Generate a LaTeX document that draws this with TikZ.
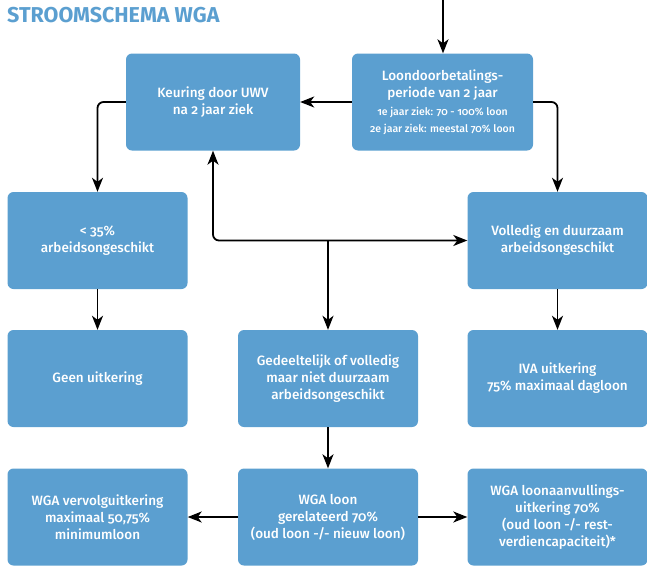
\documentclass[tikz,border=0pt]{standalone}
\usepackage{fontspec}
\setmainfont{Fira Sans}[UprightFont=* Medium,BoldFont=* Bold,Numbers=OldStyle]
\usetikzlibrary{arrows.meta}
\definecolor{wgablue}{HTML}{5B9FD0}
\begin{document}
\begin{tikzpicture}[x=1pt,y=-1pt,
  blok/.style={fill=wgablue,rounded corners=6pt,text=white,align=center,
    minimum width=180pt,minimum height=97pt,inner sep=2pt,
    font=\fontsize{13.5}{17}\selectfont},
  pijl/.style={line width=1.8pt,-{Stealth[length=14pt,width=11pt,inset=4pt]}},
  tweepijl/.style={line width=1.8pt,{Stealth[length=14pt,width=11pt,inset=4pt]}-{Stealth[length=14pt,width=11pt,inset=4pt]}}]
\useasboundingbox (0,0) rectangle (647,565);
\node[anchor=north west,text=wgablue,inner sep=0pt,font=\fontsize{21.5}{22}\selectfont\bfseries] (titel) at (7,7) {STROOMSCHEMA WGA};
% rij 1
\node[blok,minimum width=174pt] (keuring) at (213,102) {Keuring door UWV\\na 2 jaar ziek};
\node[blok,minimum width=181pt] (loon) at (442.5,102) {Loondoorbetalings-\\periode van 2 jaar\\[1pt]{\fontsize{10.5}{15.5}\selectfont 1e jaar ziek: 70 - 100\% loon}\\{\fontsize{10.5}{15.5}\selectfont 2e jaar ziek: meestal 70\% loon}};
% rij 2
\node[blok] (lt35) at (97.5,240.5) {< 35\%\\arbeidsongeschikt};
\node[blok] (volledig) at (557.5,240.5) {Volledig en duurzaam\\arbeidsongeschikt};
% rij 3
\node[blok] (geen) at (97.5,378.5) {Geen uitkering};
\node[blok] (gedeeltelijk) at (328,378.5) {Gedeeltelijk of volledig\\maar niet duurzaam\\arbeidsongeschikt};
\node[blok] (iva) at (557.5,378.5) {IVA uitkering\\75\% maximaal dagloon};
% rij 4
\node[blok] (vervolg) at (97.5,517) {WGA vervolguitkering\\maximaal 50,75\%\\minimumloon};
\node[blok] (wgaloon) at (328,517) {WGA loon\\gerelateerd 70\%\\(oud loon -/- nieuw loon)};
\node[blok] (aanvul) at (557.5,517) {WGA loonaanvullings-\\uitkering 70\%\\(oud loon -/- rest-\\verdiencapaciteit)*};
\coordinate (start) at (443,0);
\coordinate (splits) at (328,240.5);
\draw[pijl] (start) -- (start |- loon.north);
\draw[pijl] (loon.west) -- (keuring.east);
\draw[pijl,rounded corners=6pt] (keuring.west) -| (lt35.north);
\draw[pijl,rounded corners=6pt] (loon.east) -| (volledig.north);
\draw[tweepijl,rounded corners=6pt] (keuring.south) |- (volledig.west);
\draw[pijl] (splits) -- (gedeeltelijk.north);
\draw[pijl] (lt35.south) -- (geen.north);
\draw[pijl] (volledig.south) -- (iva.north);
\draw[pijl] (gedeeltelijk.south) -- (wgaloon.north);
\draw[pijl] (wgaloon.west) -- (vervolg.east);
\draw[pijl] (wgaloon.east) -- (aanvul.west);
\end{tikzpicture}
\end{document}
